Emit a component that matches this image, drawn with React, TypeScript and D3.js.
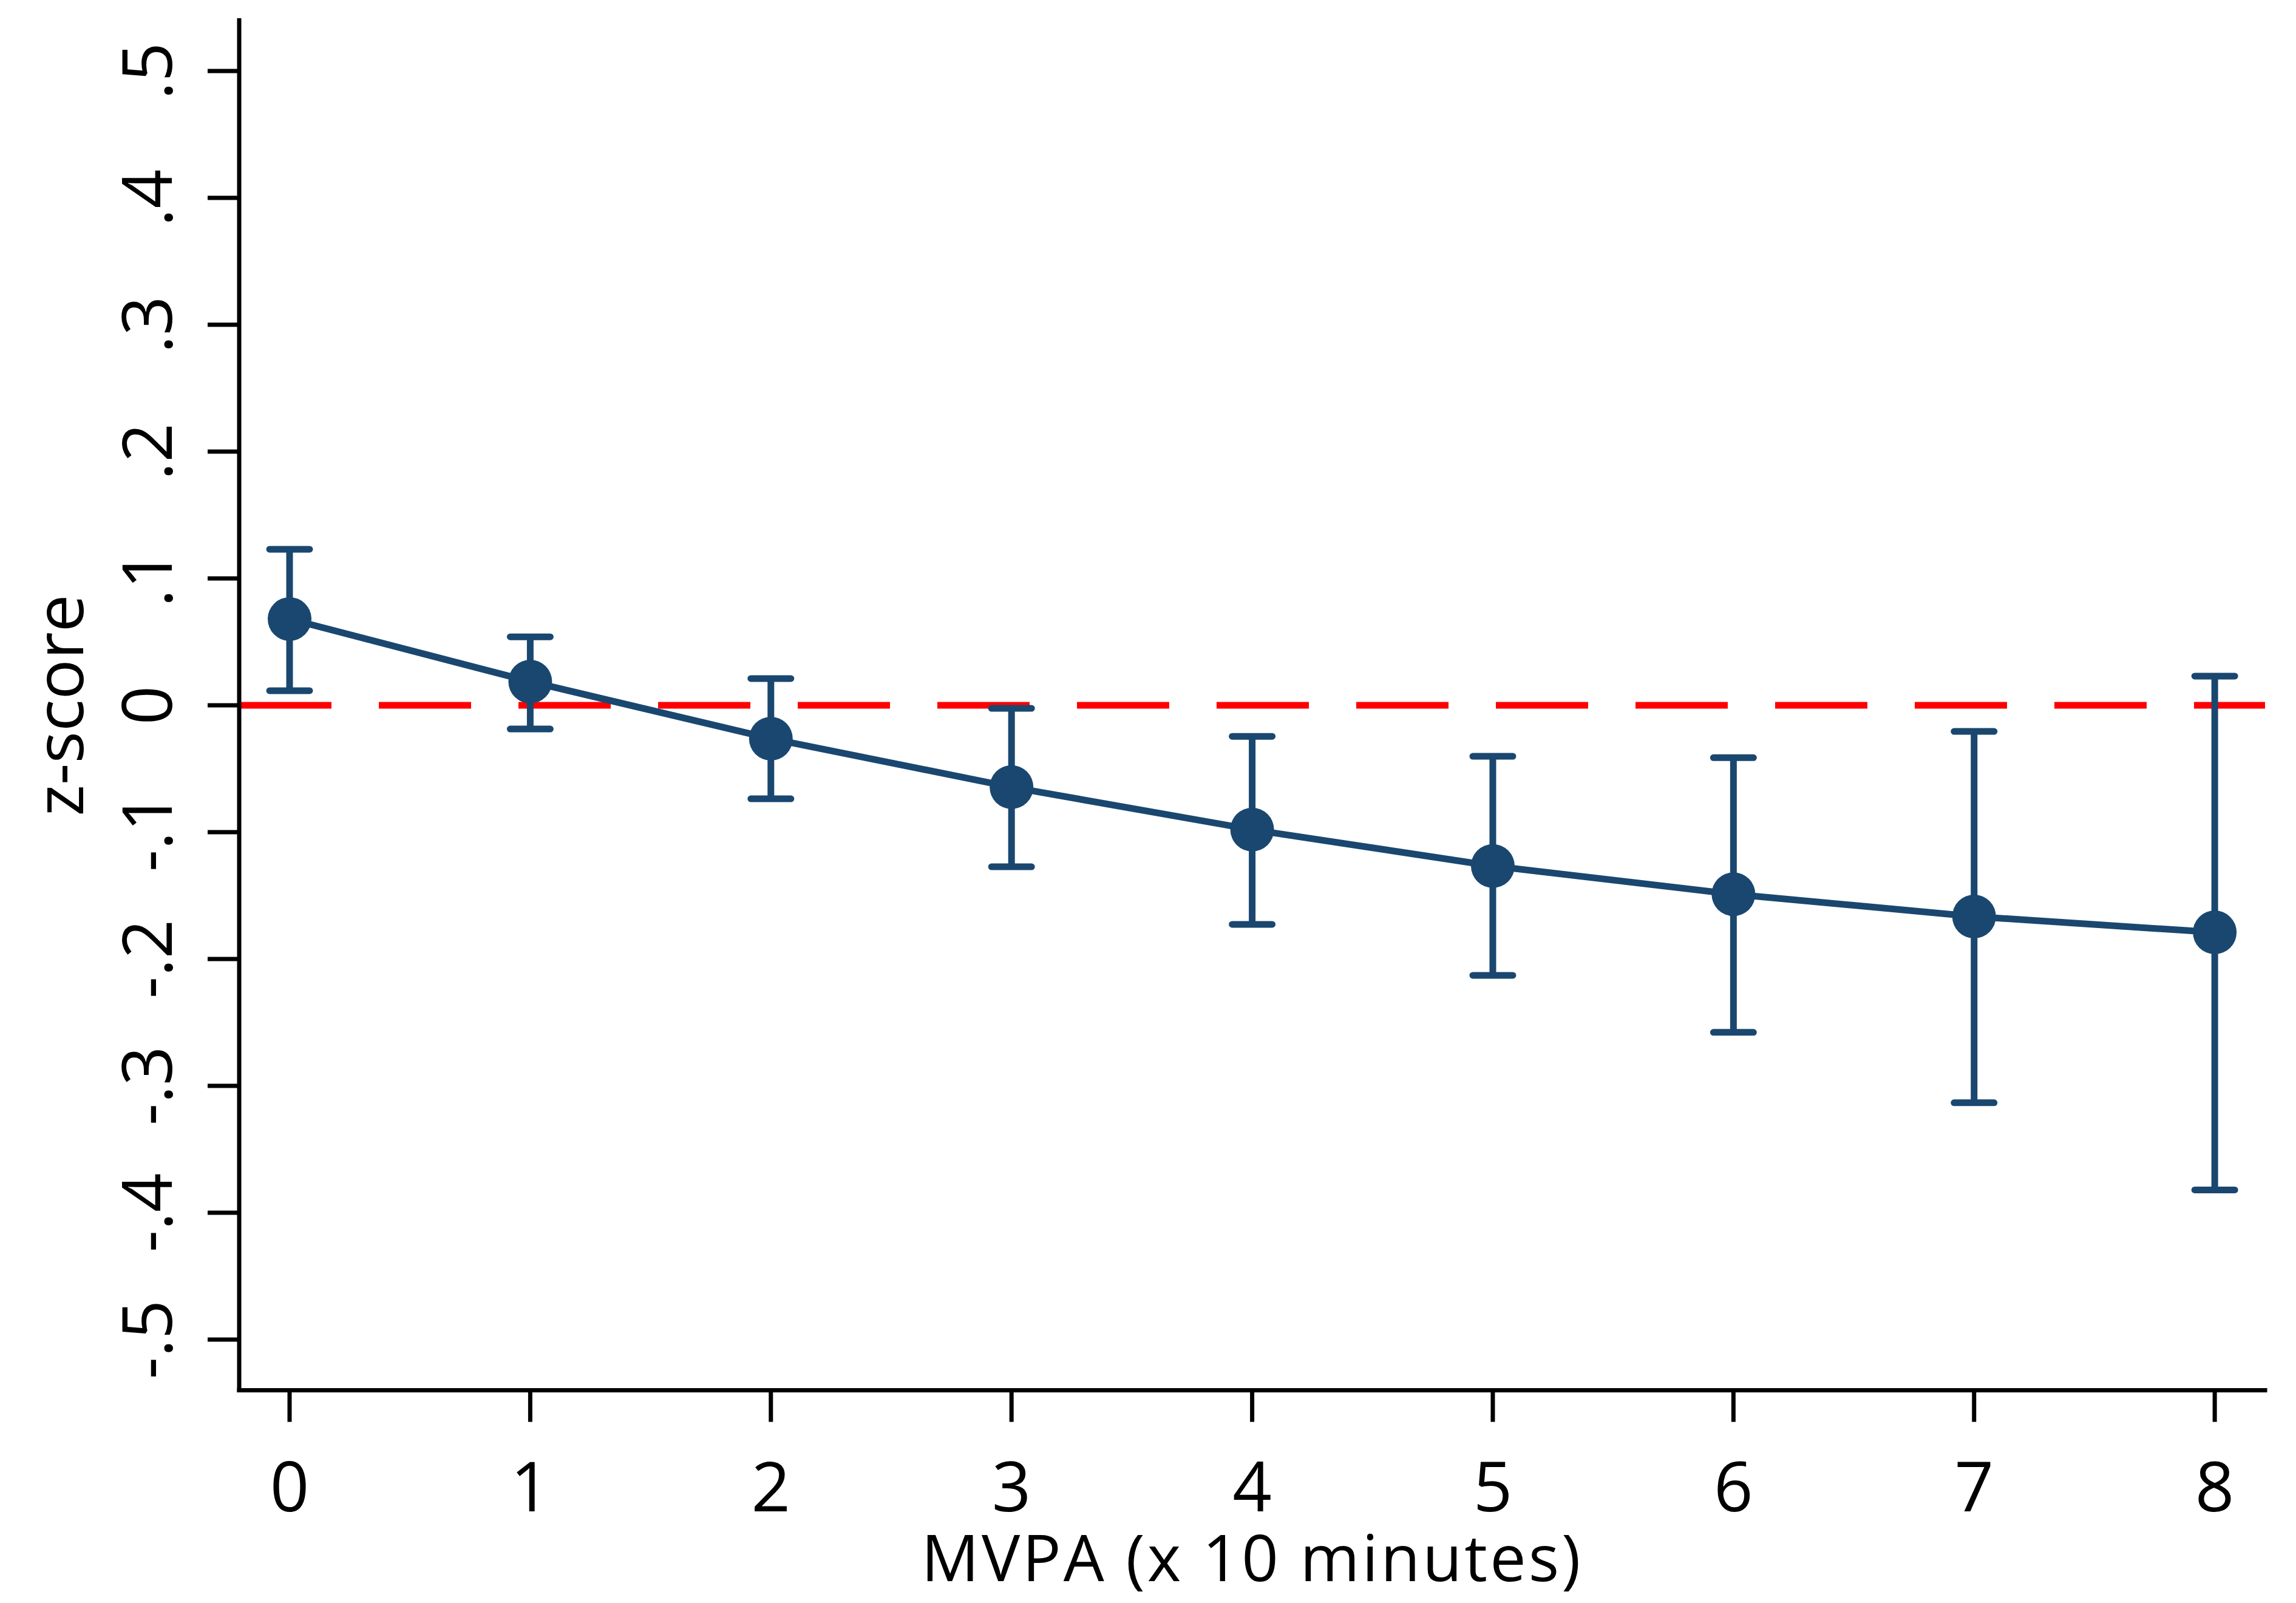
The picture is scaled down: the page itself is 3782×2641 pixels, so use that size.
import React from "react";
import * as d3 from "d3";

const mvpa = [0, 1, 2, 3, 4, 5, 6, 7, 8];
const estimate = [0.068, 0.0187, -0.0263, -0.0645, -0.098, -0.1267, -0.1489, -0.1665, -0.179];
const ciLow = [0.0115, -0.0187, -0.0737, -0.1273, -0.1727, -0.2129, -0.2578, -0.3133, -0.382];
const ciHigh = [0.123, 0.054, 0.0211, -0.0024, -0.0245, -0.0402, -0.0413, -0.0206, 0.023];

const yTickValues = [0.5, 0.4, 0.3, 0.2, 0.1, 0, -0.1, -0.2, -0.3, -0.4, -0.5];
const yTickLabels = [".5", ".4", ".3", ".2", ".1", "0", "-.1", "-.2", "-.3", "-.4", "-.5"];
const xTickValues = [0, 1, 2, 3, 4, 5, 6, 7, 8];
const xTickLabels = ["0", "1", "2", "3", "4", "5", "6", "7", "8"];

const xTitle = "MVPA (x 10 minutes)";
const yTitle = "z-score";

const W = 3782;
const H = 2641;
const NAVY = "#1a476f";
const RED = "#ff0000";
const FONT = "'Open Sans', 'Noto Sans', sans-serif";

export default function App() {
  const x = d3.scaleLinear().domain([-0.2094, 8.209]).range([394, 3731]);
  const y = d3.scaleLinear().domain([-0.54, 0.54]).range([2290.6, 33.4]);

  const pts = mvpa.map((m, i) => ({ m, v: estimate[i], lo: ciLow[i], hi: ciHigh[i] }));
  const line = d3
    .line<{ m: number; v: number }>()
    .x((d) => x(d.m))
    .y((d) => y(d.v));

  const [x0, x1] = x.range();
  const [yb, yt] = y.range();
  const tickLen = 52;
  const capHalf = 33;

  return (
    <svg
      width={W}
      height={H}
      viewBox={`0 0 ${W} ${H}`}
      style={{ position: "absolute", left: 0, top: 0, background: "#fff" }}
    >
      <rect x={0} y={0} width={W} height={H} fill="#fff" />

      {/* reference line at zero */}
      <line
        x1={x0}
        x2={x1}
        y1={y(0)}
        y2={y(0)}
        stroke={RED}
        strokeWidth={11}
        strokeDasharray="152 78"
      />

      {/* error bars */}
      {pts.map((d, i) => (
        <g key={"eb" + i} stroke={NAVY} strokeWidth={11} strokeLinecap="round">
          <line x1={x(d.m)} x2={x(d.m)} y1={y(d.hi)} y2={y(d.lo)} strokeLinecap="butt" />
          <line x1={x(d.m) - capHalf} x2={x(d.m) + capHalf} y1={y(d.hi)} y2={y(d.hi)} />
          <line x1={x(d.m) - capHalf} x2={x(d.m) + capHalf} y1={y(d.lo)} y2={y(d.lo)} />
        </g>
      ))}

      {/* connecting line */}
      <path d={line(pts) || ""} fill="none" stroke={NAVY} strokeWidth={11} strokeLinejoin="round" />

      {/* markers */}
      {pts.map((d, i) => (
        <circle key={"pt" + i} cx={x(d.m)} cy={y(d.v)} r={36} fill={NAVY} />
      ))}

      {/* axes */}
      <g stroke="#000" strokeWidth={7} strokeLinecap="square">
        <line x1={x0} x2={x0} y1={yt} y2={yb} />
        <line x1={x0} x2={x1} y1={yb} y2={yb} />
      </g>
      <g stroke="#000" strokeWidth={7}>
        {yTickValues.map((v, i) => (
          <line key={"yt" + i} x1={x0 - tickLen} x2={x0} y1={y(v)} y2={y(v)} />
        ))}
        {xTickValues.map((v, i) => (
          <line key={"xt" + i} x1={x(v)} x2={x(v)} y1={yb} y2={yb + tickLen} />
        ))}
      </g>

      {/* tick labels */}
      <g fontFamily={FONT} fontSize={113} fill="#000">
        {yTickValues.map((v, i) => (
          <text
            key={"yl" + i}
            transform={`translate(283, ${y(v)}) rotate(-90)`}
            textAnchor="middle"
          >
            {yTickLabels[i]}
          </text>
        ))}
        {xTickValues.map((v, i) => (
          <text key={"xl" + i} x={x(v)} y={2490} textAnchor="middle">
            {xTickLabels[i]}
          </text>
        ))}
      </g>

      {/* axis titles */}
      <text
        x={(x0 + x1) / 2}
        y={2605}
        textAnchor="middle"
        fontFamily={FONT}
        fontSize={106}
        letterSpacing={4}
        fill="#000"
      >
        {xTitle}
      </text>
      <text
        transform={`translate(137, ${y(0)}) rotate(-90)`}
        textAnchor="middle"
        fontFamily={FONT}
        fontSize={110}
        fill="#000"
      >
        {yTitle}
      </text>
    </svg>
  );
}
